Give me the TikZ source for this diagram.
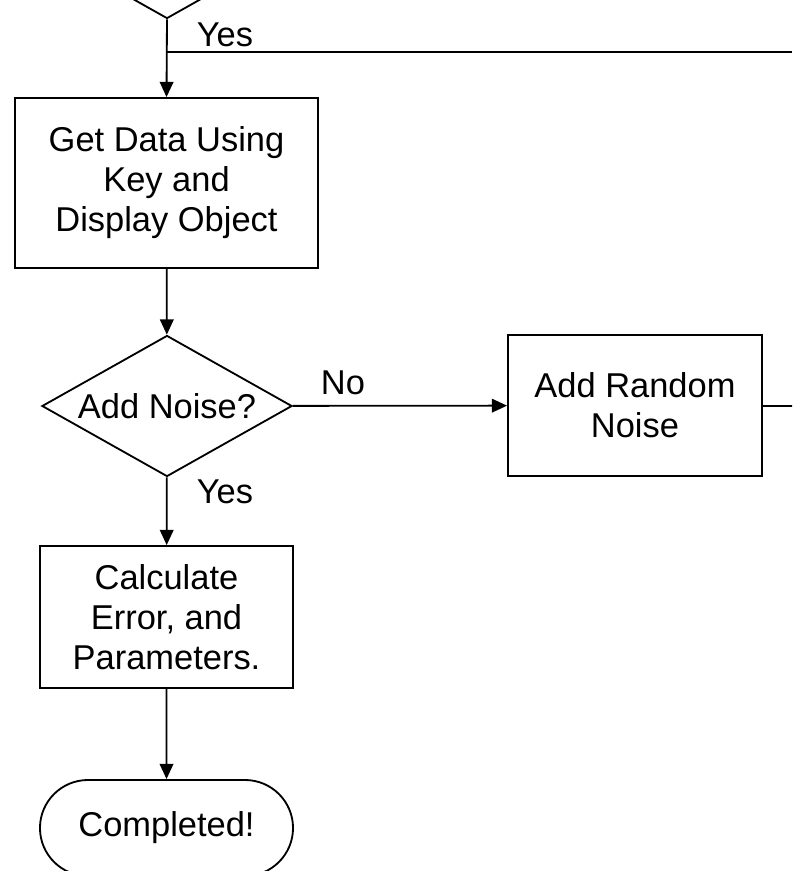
\documentclass[tikz,border=0pt]{standalone}
\usepackage{fontspec}
\setmainfont{Liberation Sans}
\usetikzlibrary{shapes.geometric,shapes.misc,arrows.meta}

\begin{document}
\begin{tikzpicture}[x=0.025cm, y=-0.025cm, line width=1.3pt,
        >={Triangle[length=0.38cm,width=0.34cm]},
        every node/.style={font=\fontsize{24.5}{28.4}\selectfont, align=center},
        procbox/.style={draw, rectangle, inner sep=0pt},
        decbox/.style={draw, diamond, inner sep=0pt, shape aspect=1.77,
                minimum width=6.25cm, minimum height=3.525cm}]
        \useasboundingbox (0,0) rectangle (792,871);

        \node[decbox] (d0) at (167,-52) {};
        \node[procbox, minimum width=7.575cm, minimum height=4.25cm] (p1) at (166.5,183) {Get Data Using\\Key and\\Display Object};
        \node[decbox] (d1) at (167,406) {Add Noise?};
        \node[procbox, minimum width=6.35cm, minimum height=3.525cm] (p2) at (635,405.5) {Add Random\\Noise};
        \node[procbox, minimum width=6.325cm, minimum height=3.55cm] (p3) at (166.5,617) {Calculate\\Error, and\\Parameters.};
        \node[draw, rounded rectangle, inner sep=0pt, minimum width=6.325cm, minimum height=2.4cm] (t1) at (166.5,828) {Completed!};

        \coordinate (j0) at (167,52);
        \coordinate (r0) at (792,52);
        \coordinate (r1) at (792,406);

        \draw[->] (d0.south) -- (p1.north);
        \draw (j0) -- (r0);
        \draw[->] (p1) -- (d1);
        \draw[->] (d1) -- (p2);
        \draw (p2) -- (r1);
        \foreach \a/\b in {d1/p3,p3/t1} {
                \draw[->] (\a) -- (\b);
            }

        \node (yes0) at (225,35) {Yes};
        \node (no1) at (343,383) {No};
        \node (yes1) at (225,492) {Yes};
    \end{tikzpicture}
\end{document}
